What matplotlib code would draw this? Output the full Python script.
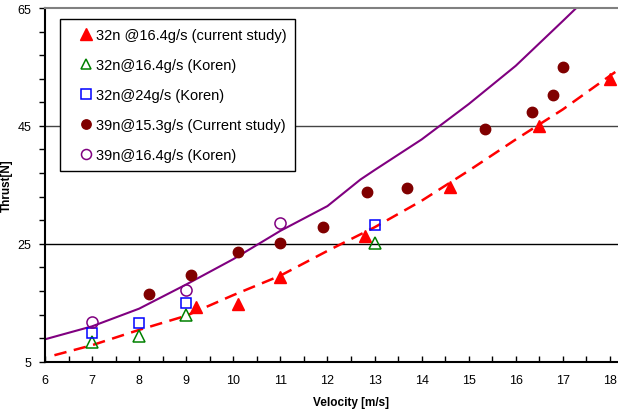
import matplotlib.pyplot as plt
import numpy as np
from matplotlib.ticker import MultipleLocator

plt.rcParams['font.family'] = ['Liberation Sans', 'DejaVu Sans']

# 32n @16.4g/s (current study)
v_32_cur = [9.2, 10.1, 11.0, 12.8, 14.6, 16.5, 18.0]
t_32_cur = [14.2, 14.8, 19.3, 26.4, 34.7, 45.0, 52.9]
# 32n@16.4g/s (Koren)
v_32_kor = [7, 8, 9, 13]
t_32_kor = [8.4, 9.4, 12.9, 25.2]
# 32n@24g/s (Koren)
v_32_24 = [7, 8, 9, 13]
t_32_24 = [9.8, 11.5, 14.9, 28.2]
# 39n@15.3g/s (Current study)
v_39_cur = [8.2, 9.1, 10.1, 11.0, 11.9, 12.85, 13.7, 15.35, 16.35, 16.8, 17.0]
t_39_cur = [16.5, 19.7, 23.6, 25.1, 27.8, 33.8, 34.4, 44.4, 47.4, 50.2, 55.0]
# 39n@16.4g/s (Koren)
v_39_kor = [7, 9, 11]
t_39_kor = [11.8, 17.2, 28.5]

# model curves
v_fit39 = [6, 7, 8, 9, 10, 11, 12, 12.7, 13, 14, 15, 16, 17, 18]
t_fit39 = [8.8, 11.0, 14.0, 18.1, 22.4, 27.2, 31.4, 35.9, 37.5, 42.7, 48.7, 55.2, 62.8, 70.5]
v_fit32 = [6.2, 7, 8, 9, 10, 11, 12, 13, 14, 15, 16, 17, 18, 18.3]
t_fit32 = [6.1, 7.8, 10.4, 12.8, 16.3, 19.6, 23.8, 27.8, 32.3, 37.4, 42.7, 47.8, 53.5, 55.2]

fig = plt.figure(figsize=(6.18, 4.10), dpi=100)
W, H = 618, 410
x0, x1 = 45, 657
y0, y1 = 362.7, 9
ax = fig.add_axes([x0 / W, (H - y0) / H, (x1 - x0) / W, (y0 - y1) / H])

ax.axhline(25, color='black', lw=1.0, zorder=1)
ax.axhline(45, color='#444444', lw=1.0, zorder=1)

ax.plot(v_fit39, t_fit39, color='#800080', lw=1.5, zorder=2)
ax.plot(v_fit32, t_fit32, color='#ff0000', lw=1.8, dashes=(5, 3), zorder=2)

ax.plot(v_32_cur, t_32_cur, ls='none', marker='^', ms=9, color='#ff0000',
        label='32n @16.4g/s (current study)', zorder=3)
ax.plot(v_32_kor, t_32_kor, ls='none', marker='^', ms=8.5, mfc='none', mec='#008000',
        mew=1.1, label='32n@16.4g/s (Koren)', zorder=3)
ax.plot(v_32_24, t_32_24, ls='none', marker='s', ms=7.5, mfc='none', mec='#0000ff',
        mew=1.1, label='32n@24g/s (Koren)', zorder=3)
ax.plot(v_39_cur, t_39_cur, ls='none', marker='o', ms=7.5, color='#800000',
        label='39n@15.3g/s (Current study)', zorder=3)
ax.plot(v_39_kor, t_39_kor, ls='none', marker='o', ms=8, mfc='none', mec='#800080',
        mew=1.1, label='39n@16.4g/s (Koren)', zorder=3)

ax.set_xlim(6, 19)
ax.set_ylim(5, 65)
ax.xaxis.set_major_locator(MultipleLocator(1))
ax.xaxis.set_minor_locator(MultipleLocator(0.5))
ax.yaxis.set_major_locator(MultipleLocator(20, offset=5))
ax.yaxis.set_minor_locator(MultipleLocator(4, offset=1))
ax.tick_params(axis='x', which='both', direction='in', length=4, width=1, labelsize=9, pad=9)
ax.tick_params(axis='y', which='both', direction='out', length=4, width=1, labelsize=9, pad=6)

for s in ['left', 'bottom']:
    ax.spines[s].set_linewidth(1.5)
    ax.spines[s].set_color('black')
ax.spines['top'].set_color('#808080')
ax.spines['top'].set_linewidth(1.5)
ax.spines['right'].set_visible(False)

ax.set_xlabel('Velocity [m/s]', fontsize=8.5, fontweight='bold', labelpad=7)
ax.set_ylabel('Thrust[N]', fontsize=8.5, fontweight='bold')
ax.yaxis.set_label_coords((13 - x0) / (x1 - x0), 0.5)

leg = ax.legend(loc='upper left', bbox_to_anchor=((60 - x0) / (x1 - x0), (y0 - 20) / (y0 - y1)),
                fontsize=10.5, frameon=True, fancybox=False, edgecolor='black',
                framealpha=1, labelspacing=1.1, handlelength=2.4, handletextpad=-0.55,
                borderpad=0.6, borderaxespad=0, numpoints=1, markerscale=0.9)
leg.get_frame().set_linewidth(1.0)
leg.set_zorder(5)

fig.savefig('out.png', dpi=100)
